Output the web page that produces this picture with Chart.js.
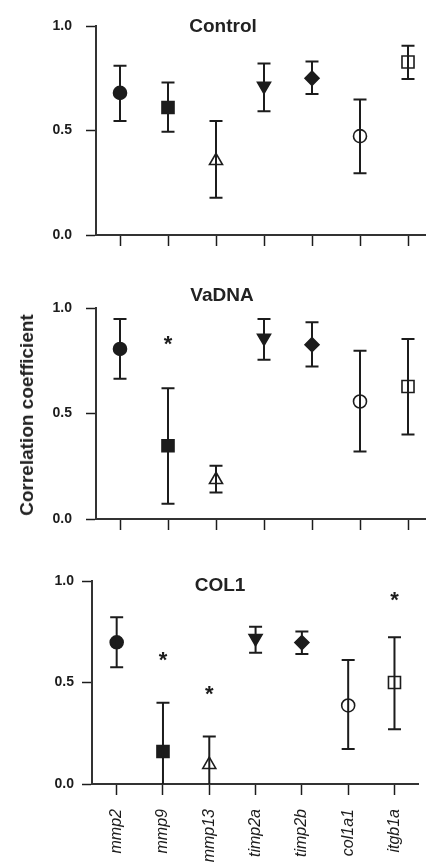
<!DOCTYPE html>
<html>
<head>
<meta charset="utf-8">
<script src="https://cdn.jsdelivr.net/npm/chart.js@4.4.1/dist/chart.umd.min.js"></script>
<style>
  body { margin: 0; width: 426px; height: 866px; overflow: hidden; background: #fff; position: relative;
         font-family: 'Liberation Sans', Arial, sans-serif; color: #222; }
  .panel { position: absolute; left: 0; width: 426px; }
  .title { position: absolute; font-weight: bold; font-size: 19px; transform: translate(-50%, -50%); white-space: nowrap; }
  #ylabel { position: absolute; left: 27px; top: 415px; transform: translate(-50%, -50%) rotate(-90deg);
            font-weight: bold; font-size: 19px; white-space: nowrap; }
</style>
</head>
<body>
<div class="panel" style="top:0;height:260px"><canvas id="c1"></canvas></div>
<div class="panel" style="top:283px;height:261px"><canvas id="c2"></canvas></div>
<div class="panel" style="top:555px;height:311px"><canvas id="c3"></canvas></div>
<div class="title" style="left:223px;top:26px">Control</div>
<div class="title" style="left:222px;top:295px">VaDNA</div>
<div class="title" style="left:220px;top:585px">COL1</div>
<div id="ylabel">Correlation coefficient</div>

<script>
// genes on the x axis
const genes = ['mmp2', 'mmp9', 'mmp13', 'timp2a', 'timp2b', 'col1a1', 'itgb1a'];
const yTicks = [0, 0.5, 1.0];

// Control
const controlMean  = [0.68, 0.61, 0.355, 0.713, 0.75, 0.473, 0.828];
const controlUpper = [0.81, 0.73, 0.545, 0.82, 0.83, 0.648, 0.906];
const controlLower = [0.546, 0.494, 0.178, 0.592, 0.675, 0.296, 0.747];
const controlStars = [null, null, null, null, null, null, null];

// VaDNA
const vadnaMean  = [0.806, 0.347, 0.186, 0.858, 0.826, 0.557, 0.628];
const vadnaUpper = [0.948, 0.62, 0.252, 0.948, 0.932, 0.797, 0.853];
const vadnaLower = [0.665, 0.072, 0.126, 0.755, 0.723, 0.32, 0.40];
const vadnaStars = [null, 0.845, null, null, null, null, null];

// COL1 (mmp9 / mmp13 lower bars run below the axis)
const col1Mean  = [0.698, 0.16, 0.095, 0.718, 0.697, 0.387, 0.5];
const col1Upper = [0.821, 0.40, 0.234, 0.775, 0.751, 0.611, 0.723];
const col1Lower = [0.575, -0.05, -0.05, 0.647, 0.64, 0.172, 0.27];
const col1Stars = [null, 0.628, 0.459, null, null, null, 0.923];

// marker look per gene
const INK = '#1c1c1c';
const markerStyle = ['circle', 'rect', 'triangle', 'triangle', 'rectRot', 'circle', 'rect'];
const markerRot   = [0, 0, 0, 180, 0, 0, 0];
const markerFill  = [INK, INK, 'rgba(0,0,0,0)', INK, INK, 'rgba(0,0,0,0)', 'rgba(0,0,0,0)'];
const markerSize  = [6.5, 8.5, 7.5, 7.5, 7, 6.5, 8.5];

const errorBars = {
  id: 'errorBars',
  afterDatasetsDraw(chart) {
    const { ctx, chartArea: a, scales: { x, y } } = chart;
    const ds = chart.data.datasets[0];
    ctx.save();
    ctx.beginPath();
    ctx.rect(a.left, a.top - 30, a.right - a.left, a.bottom - a.top + 30);
    ctx.clip();
    ctx.strokeStyle = INK;
    ctx.lineWidth = 2;
    ds.lower.forEach((lo, i) => {
      const px = x.getPixelForValue(i);
      const top = y.getPixelForValue(ds.upper[i]);
      const bot = y.getPixelForValue(lo);
      ctx.beginPath();
      ctx.moveTo(px, top); ctx.lineTo(px, bot);
      ctx.moveTo(px - 6.5, top); ctx.lineTo(px + 6.5, top);
      ctx.moveTo(px - 6.5, bot); ctx.lineTo(px + 6.5, bot);
      ctx.stroke();
    });
    ctx.restore();

    ctx.save();
    ctx.fillStyle = INK;
    ctx.font = 'bold 22px "Liberation Sans", Arial';
    ctx.textAlign = 'center';
    ds.stars.forEach((s, i) => {
      if (s === null) return;
      const m = ctx.measureText('*');
      const off = (m.actualBoundingBoxAscent - m.actualBoundingBoxDescent) / 2;
      ctx.fillText('*', x.getPixelForValue(i), y.getPixelForValue(s) + off);
    });
    ctx.restore();
  }
};

function makePanel(id, mean, upper, lower, stars, geo) {
  new Chart(document.getElementById(id), {
    type: 'scatter',
    data: {
      datasets: [{
        data: mean.map((v, i) => ({ x: i, y: v })),
        upper: upper, lower: lower, stars: stars,
        pointStyle: markerStyle,
        pointRotation: markerRot,
        pointRadius: markerSize,
        pointBackgroundColor: markerFill,
        pointBorderColor: INK,
        pointBorderWidth: 1.6,
        showLine: false
      }]
    },
    options: {
      responsive: true,
      maintainAspectRatio: false,
      animation: false,
      events: [],
      layout: { autoPadding: false, padding: { top: geo.top, right: geo.right, left: 0, bottom: 0 } },
      plugins: { legend: { display: false }, tooltip: { enabled: false } },
      scales: {
        x: {
          type: 'linear',
          min: geo.xmin, max: geo.xmax,
          afterBuildTicks: s => { s.ticks = genes.map((g, i) => ({ value: i })); },
          afterFit: s => { s.height = geo.xh; s.paddingLeft = 0; s.paddingRight = 0; },
          grid: { drawOnChartArea: false, drawTicks: true, tickLength: 11, tickColor: INK, tickWidth: 1.5 },
          border: { display: true, color: '#333', width: 2 },
          ticks: {
            autoSkip: false, minRotation: 90, maxRotation: 90, padding: 14,
            color: INK,
            font: { family: 'Liberation Sans', size: 16, style: 'italic' },
            callback: v => geo.labels ? genes[v] : ''
          }
        },
        y: {
          min: 0, max: 1,
          afterBuildTicks: s => { s.ticks = yTicks.map(v => ({ value: v })); },
          afterFit: s => { s.width = geo.left; s.paddingTop = 0; s.paddingBottom = 0; },
          grid: { drawOnChartArea: false, drawTicks: true, tickLength: 10, tickColor: INK, tickWidth: 1.5 },
          border: { display: true, color: '#333', width: 2 },
          ticks: {
            padding: geo.tpad, color: INK,
            font: { family: 'Liberation Sans', size: 14, weight: 'bold' },
            callback: v => v.toFixed(1)
          }
        }
      }
    },
    plugins: [errorBars]
  });
}

makePanel('c1', controlMean, controlUpper, controlLower, controlStars,
  { top: 26, right: 0, left: 96, xh: 25, xmin: -0.5, xmax: 6.375, tpad: 14, labels: false });
makePanel('c2', vadnaMean, vadnaUpper, vadnaLower, vadnaStars,
  { top: 25, right: 0, left: 96, xh: 25, xmin: -0.5, xmax: 6.375, tpad: 14, labels: false });
makePanel('c3', col1Mean, col1Upper, col1Lower, col1Stars,
  { top: 26, right: 8, left: 92, xh: 82, xmin: -0.533, xmax: 6.508, tpad: 8, labels: true });
</script>
</body>
</html>
